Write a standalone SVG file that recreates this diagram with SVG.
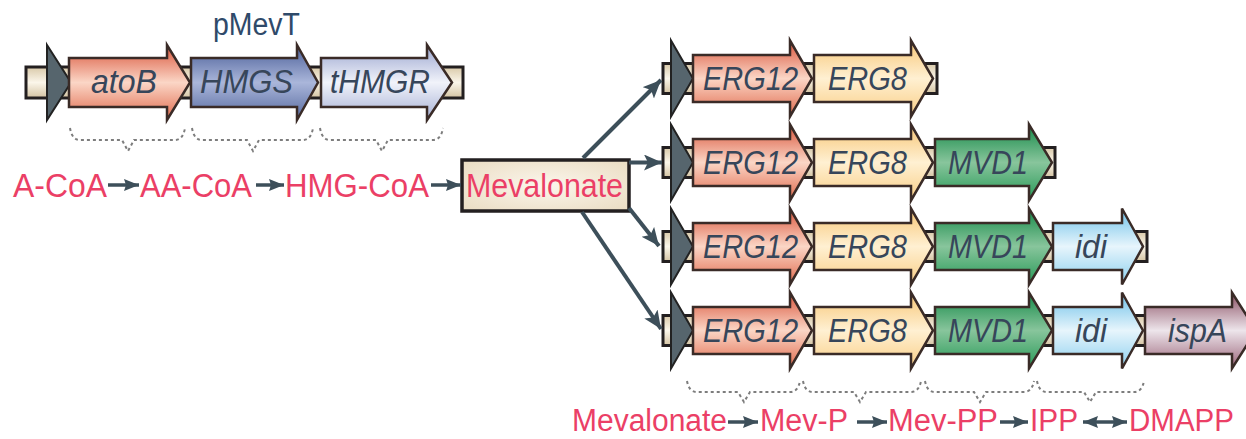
<svg xmlns="http://www.w3.org/2000/svg" width="1246" height="439" viewBox="0 0 1246 439">
<defs>
<linearGradient id="gBar" x1="0" y1="0" x2="0" y2="1"><stop offset="0" stop-color="#d9c9a9"/><stop offset="0.5" stop-color="#fbf6ea"/><stop offset="1" stop-color="#d4c3a2"/></linearGradient>
<linearGradient id="gRed" x1="0" y1="0" x2="0" y2="1"><stop offset="0" stop-color="#d9553b"/><stop offset="0.5" stop-color="#fbd6c6"/><stop offset="1" stop-color="#e06a4d"/></linearGradient>
<linearGradient id="gBlue" x1="0" y1="0" x2="0" y2="1"><stop offset="0" stop-color="#4a5e98"/><stop offset="0.5" stop-color="#aab6da"/><stop offset="1" stop-color="#56699f"/></linearGradient>
<linearGradient id="gLav" x1="0" y1="0" x2="0" y2="1"><stop offset="0" stop-color="#9aa5cf"/><stop offset="0.5" stop-color="#f1f3fa"/><stop offset="1" stop-color="#a6b0d5"/></linearGradient>
<linearGradient id="gYel" x1="0" y1="0" x2="0" y2="1"><stop offset="0" stop-color="#f7c676"/><stop offset="0.5" stop-color="#fff0d2"/><stop offset="1" stop-color="#f9ce86"/></linearGradient>
<linearGradient id="gGrn" x1="0" y1="0" x2="0" y2="1"><stop offset="0" stop-color="#158948"/><stop offset="0.5" stop-color="#88c59c"/><stop offset="1" stop-color="#279957"/></linearGradient>
<linearGradient id="gCyan" x1="0" y1="0" x2="0" y2="1"><stop offset="0" stop-color="#6cc0e8"/><stop offset="0.5" stop-color="#e7f5fc"/><stop offset="1" stop-color="#8bcfee"/></linearGradient>
<linearGradient id="gMauve" x1="0" y1="0" x2="0" y2="1"><stop offset="0" stop-color="#8a4f63"/><stop offset="0.5" stop-color="#ede5eb"/><stop offset="1" stop-color="#9a6378"/></linearGradient>
<radialGradient id="gBox" cx="0.5" cy="0.5" r="0.7"><stop offset="0" stop-color="#fbf6ec"/><stop offset="1" stop-color="#eadcc2"/></radialGradient>
<marker id="ah" markerUnits="userSpaceOnUse" markerWidth="20" markerHeight="18" refX="18" refY="8" orient="auto"><path d="M0,0 L18,8 L0,16 L4,8 Z" fill="#3d4f5a"/></marker>
<marker id="sh" markerUnits="userSpaceOnUse" markerWidth="17" markerHeight="14" refX="15" refY="6" orient="auto"><path d="M0,0 L15,6 L0,12 L2,6 Z" fill="#3d4f5a"/></marker>
<marker id="shs" markerUnits="userSpaceOnUse" markerWidth="17" markerHeight="14" refX="15" refY="6" orient="auto-start-reverse"><path d="M0,0 L15,6 L0,12 L2,6 Z" fill="#3d4f5a"/></marker>
</defs>
<style>
.bar{fill:url(#gBar);stroke:#231f20;stroke-width:3}
.prom{fill:#56656d;stroke:#222;stroke-width:2;stroke-linejoin:miter}
.gene{stroke:#3a2b27;stroke-width:2.5;stroke-linejoin:miter}
.lbl{font-family:"Liberation Sans",Arial,sans-serif;font-style:italic;font-size:33px;fill:#37465a}
.path{font-family:"Liberation Sans",Arial,sans-serif;font-size:34px;fill:#eb3f66}
.bpath{font-family:"Liberation Sans",Arial,sans-serif;font-size:31px;fill:#eb3f66}
.brace{fill:none;stroke:#7d7d7d;stroke-width:2;stroke-dasharray:3 3}
.conn{fill:none;stroke:#3d4f5a;stroke-width:4}
.sconn{fill:none;stroke:#3d4f5a;stroke-width:3.5}
</style>

<g id="pMevT">
<text x="213" y="35" font-family="Liberation Sans, Arial, sans-serif" font-size="31" fill="#2f4a6a" textLength="87" lengthAdjust="spacingAndGlyphs">pMevT</text>
<rect class="bar" x="26" y="67" width="437" height="31"/>
<path class="prom" d="M47,45 L71,82.5 L47,120 Z"/>
<g id="atoB"><path class="gene" fill="url(#gRed)" d="M69,58 H167 V45 L190,82.5 L167,120 V107 H69 Z"/><text class="lbl" x="91" y="93" textLength="66" lengthAdjust="spacingAndGlyphs">atoB</text></g>
<g id="HMGS"><path class="gene" fill="url(#gBlue)" d="M191,58 H297 V45 L318,82.5 L297,120 V107 H191 Z"/><text class="lbl" x="200" y="93" textLength="93" lengthAdjust="spacingAndGlyphs">HMGS</text></g>
<g id="tHMGR"><path class="gene" fill="url(#gLav)" d="M321,58 H427 V45 L452,82.5 L427,120 V107 H321 Z"/><text class="lbl" x="330" y="93" textLength="100" lengthAdjust="spacingAndGlyphs">tHMGR</text></g>
</g>

<g id="braces-top">
<path class="brace" d="M70,128 Q72,140 80,140 L122,140 L128,151 L134,140 L175,140 Q183,140 185,128"/>
<path class="brace" d="M192,128 Q194,140 202,140 L247,140 L253,151 L259,140 L303,140 Q311,140 313,128"/>
<path class="brace" d="M320,128 Q322,140 330,140 L376,140 L382,151 L388,140 L433,140 Q441,140 443,128"/>
</g>

<g id="pathway-top">
<text class="path" x="13" y="197" textLength="94" lengthAdjust="spacingAndGlyphs">A-CoA</text>
<text class="path" x="140" y="197" textLength="112" lengthAdjust="spacingAndGlyphs">AA-CoA</text>
<text class="path" x="285" y="197" textLength="144" lengthAdjust="spacingAndGlyphs">HMG-CoA</text>
</g>

<g id="mevalonate">
<rect x="462" y="160" width="167" height="51" fill="url(#gBox)" stroke="#231f20" stroke-width="3.5"/>
<text class="path" x="466" y="197" textLength="157" lengthAdjust="spacingAndGlyphs">Mevalonate</text>
</g>

<g id="row1">
<rect class="bar" x="663" y="63.5" width="274" height="30"/>
<path class="prom" d="M671,40.5 L693,78.5 L671,116.5 Z"/>
<g id="r1-ERG12"><path class="gene" fill="url(#gRed)" d="M693,55 H790 V40.5 L812,78.5 L790,116.5 V102 H693 Z"/><text class="lbl" x="703" y="89.5" textLength="95" lengthAdjust="spacingAndGlyphs">ERG12</text></g>
<g id="r1-ERG8"><path class="gene" fill="url(#gYel)" d="M814,55 H911 V40.5 L933,78.5 L911,116.5 V102 H814 Z"/><text class="lbl" x="828" y="89.5" textLength="79" lengthAdjust="spacingAndGlyphs">ERG8</text></g>
</g>

<g id="row2">
<rect class="bar" x="663" y="147.5" width="392" height="30"/>
<path class="prom" d="M671,124.5 L693,162.5 L671,200.5 Z"/>
<g id="r2-ERG12"><path class="gene" fill="url(#gRed)" d="M693,139 H790 V124.5 L812,162.5 L790,200.5 V186 H693 Z"/><text class="lbl" x="703" y="173.5" textLength="95" lengthAdjust="spacingAndGlyphs">ERG12</text></g>
<g id="r2-ERG8"><path class="gene" fill="url(#gYel)" d="M814,139 H911 V124.5 L933,162.5 L911,200.5 V186 H814 Z"/><text class="lbl" x="828" y="173.5" textLength="79" lengthAdjust="spacingAndGlyphs">ERG8</text></g>
<g id="r2-MVD1"><path class="gene" fill="url(#gGrn)" d="M935,139 H1029 V124.5 L1052,162.5 L1029,200.5 V186 H935 Z"/><text class="lbl" x="948" y="173.5" textLength="80" lengthAdjust="spacingAndGlyphs">MVD1</text></g>
</g>

<g id="row3">
<rect class="bar" x="663" y="231.5" width="484" height="30"/>
<path class="prom" d="M671,208.5 L693,246.5 L671,284.5 Z"/>
<g id="r3-ERG12"><path class="gene" fill="url(#gRed)" d="M693,223 H790 V208.5 L812,246.5 L790,284.5 V270 H693 Z"/><text class="lbl" x="703" y="257.5" textLength="95" lengthAdjust="spacingAndGlyphs">ERG12</text></g>
<g id="r3-ERG8"><path class="gene" fill="url(#gYel)" d="M814,223 H911 V208.5 L933,246.5 L911,284.5 V270 H814 Z"/><text class="lbl" x="828" y="257.5" textLength="79" lengthAdjust="spacingAndGlyphs">ERG8</text></g>
<g id="r3-MVD1"><path class="gene" fill="url(#gGrn)" d="M935,223 H1029 V208.5 L1052,246.5 L1029,284.5 V270 H935 Z"/><text class="lbl" x="948" y="257.5" textLength="80" lengthAdjust="spacingAndGlyphs">MVD1</text></g>
<g id="r3-idi"><path class="gene" fill="url(#gCyan)" d="M1053,223 H1122 V208.5 L1143,246.5 L1122,284.5 V270 H1053 Z"/><text class="lbl" x="1075" y="257.5" textLength="32" lengthAdjust="spacingAndGlyphs">idi</text></g>
</g>

<g id="row4">
<rect class="bar" x="663" y="315.5" width="590" height="30"/>
<path class="prom" d="M671,292.5 L693,330.5 L671,368.5 Z"/>
<g id="r4-ERG12"><path class="gene" fill="url(#gRed)" d="M693,307 H790 V292.5 L812,330.5 L790,368.5 V354 H693 Z"/><text class="lbl" x="703" y="341.5" textLength="95" lengthAdjust="spacingAndGlyphs">ERG12</text></g>
<g id="r4-ERG8"><path class="gene" fill="url(#gYel)" d="M814,307 H911 V292.5 L933,330.5 L911,368.5 V354 H814 Z"/><text class="lbl" x="828" y="341.5" textLength="79" lengthAdjust="spacingAndGlyphs">ERG8</text></g>
<g id="r4-MVD1"><path class="gene" fill="url(#gGrn)" d="M935,307 H1029 V292.5 L1052,330.5 L1029,368.5 V354 H935 Z"/><text class="lbl" x="948" y="341.5" textLength="80" lengthAdjust="spacingAndGlyphs">MVD1</text></g>
<g id="r4-idi"><path class="gene" fill="url(#gCyan)" d="M1053,307 H1122 V292.5 L1143,330.5 L1122,368.5 V354 H1053 Z"/><text class="lbl" x="1075" y="341.5" textLength="32" lengthAdjust="spacingAndGlyphs">idi</text></g>
<g id="r4-ispA"><path class="gene" fill="url(#gMauve)" d="M1145,307 H1232 V292.5 L1256,330.5 L1232,368.5 V354 H1145 Z"/><text class="lbl" x="1168" y="341.5" textLength="59" lengthAdjust="spacingAndGlyphs">ispA</text></g>
</g>

<g id="braces-bottom">
<path class="brace" d="M687,381 Q689,392 697,392 L738,392 L744,402 L750,392 L790,392 Q798,392 800,381"/>
<path class="brace" d="M803,381 Q805,392 813,392 L854,392 L860,402 L866,392 L911,392 Q919,392 921,381"/>
<path class="brace" d="M925,381 Q927,392 935,392 L974,392 L980,402 L986,392 L1024,392 Q1032,392 1034,381"/>
<path class="brace" d="M1037,381 Q1039,392 1047,392 L1084,392 L1090,402 L1096,392 L1134,392 Q1142,392 1144,381"/>
</g>

<g id="pathway-bottom">
<text class="bpath" x="572" y="431" textLength="155" lengthAdjust="spacingAndGlyphs">Mevalonate</text>
<text class="bpath" x="760" y="431" textLength="88" lengthAdjust="spacingAndGlyphs">Mev-P</text>
<text class="bpath" x="888" y="431" textLength="110" lengthAdjust="spacingAndGlyphs">Mev-PP</text>
<text class="bpath" x="1030" y="431" textLength="48" lengthAdjust="spacingAndGlyphs">IPP</text>
<text class="bpath" x="1129" y="431" textLength="105" lengthAdjust="spacingAndGlyphs">DMAPP</text>
</g>

<g id="connectors">
<path class="sconn" d="M108,185 L139,185" marker-end="url(#sh)"/>
<path class="sconn" d="M256,185 L284,185" marker-end="url(#sh)"/>
<path class="sconn" d="M431,185 L461,185" marker-end="url(#sh)"/>
<path class="conn" d="M583,158 L661,80" marker-end="url(#ah)"/>
<path class="conn" d="M629,162.5 L662,162.5" marker-end="url(#ah)"/>
<path class="conn" d="M629,208 L659,246" marker-end="url(#ah)"/>
<path class="conn" d="M582,212 L661,329" marker-end="url(#ah)"/>
<path class="sconn" d="M728,422 L758,422" marker-end="url(#sh)"/>
<path class="sconn" d="M857,422 L887,422" marker-end="url(#sh)"/>
<path class="sconn" d="M1000,422 L1028,422" marker-end="url(#sh)"/>
<path class="sconn" d="M1083,422 L1127,422" marker-start="url(#shs)" marker-end="url(#sh)"/>
</g>
</svg>
